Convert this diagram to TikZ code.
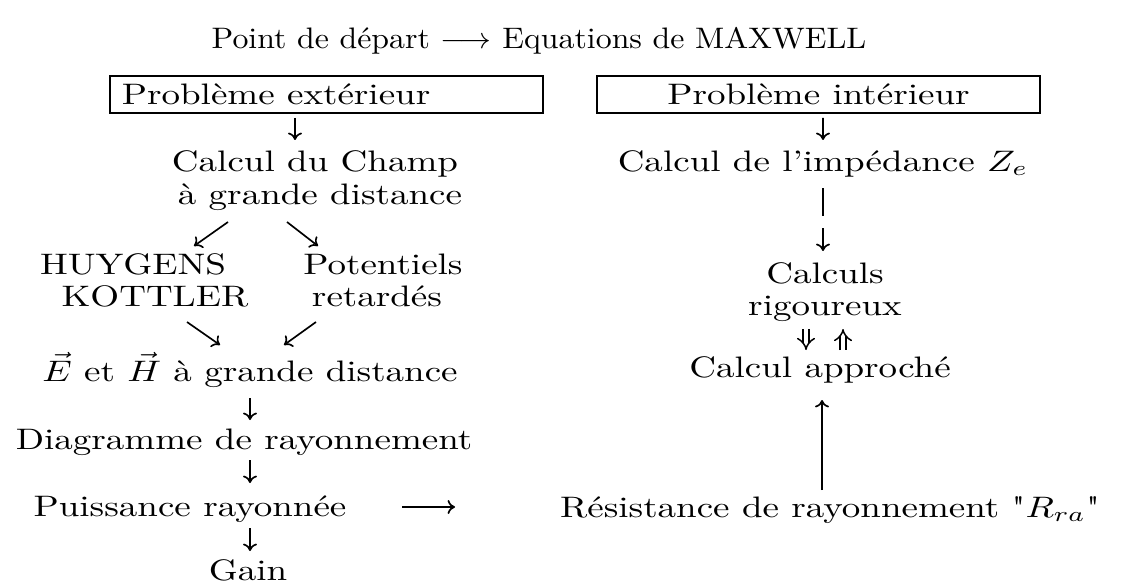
\documentclass[tikz,border=0pt]{standalone}
\usetikzlibrary{arrows.meta,calc}
\newcommand{\sq}[1]{\scalebox{1}[0.8]{#1}}
\begin{document}
\begin{tikzpicture}[x=0.27pt,y=-0.27pt,
  txt/.style={inner sep=0pt,outer sep=0pt,anchor=base,font=\fontsize{10pt}{12pt}\selectfont},
  boxst/.style={draw,line width=0.5pt,inner xsep=0pt,inner ysep=0pt,minimum height=10pt,font=\fontsize{10pt}{12pt}\selectfont},
  arr/.style={line width=0.45pt,-{To[length=2pt,width=3.8pt]}},
  ln/.style={line width=0.45pt},
  dbl/.style={double,double distance=1.3pt,line width=0.4pt,-{Implies}}]
\useasboundingbox (0,0) rectangle (1141,586);

\node[txt] (title) at (539,49) {\scalebox{0.86}[0.8]{Point de départ $\longrightarrow$ Equations de MAXWELL}};
\node[boxst,text width=116.9pt,align=left] (boxL) at (326.5,94.5) {\hspace*{3.2pt}\sq{Problème extérieur}};
\node[boxst,text width=119.6pt,align=center] (boxR) at (818.5,94.5) {\sq{Problème intérieur}};

\node[txt] (calc1) at (315,171) {\sq{Calcul du Champ}};
\node[txt] (calc2) at (320,204) {\sq{à grande distance}};
\node[txt] (huy) at (133,274) {\sq{HUYGENS}};
\node[txt] (kot) at (155,306) {\sq{KOTTLER}};
\node[txt] (pot) at (383,274) {\sq{Potentiels}};
\node[txt] (ret) at (377,306) {\sq{retardés}};
\node[txt] (eh) at (250,381) {\sq{$\vec{E}$ et $\vec{H}$ à grande distance}};
\node[txt] (diag) at (244,449) {\sq{Diagramme de rayonnement}};
\node[txt] (puis) at (190,516) {\sq{Puissance rayonnée}};
\node[txt] (gain) at (248,580) {\sq{Gain}};

\node[txt] (calcz) at (823,171) {\sq{Calcul de l'impédance $Z_e$}};
\node[txt] (calcs) at (825,283) {\sq{Calculs}};
\node[txt] (rig) at (825,315) {\sq{rigoureux}};
\node[txt] (appr) at (820,377) {\sq{Calcul approché}};
\node[txt] (res) at (830,517) {\sq{Résistance de rayonnement \textquotedbl$R_{ra}$\textquotedbl}};

% left column
\draw[arr] ($(boxL.south)+(-31.5,4)$) -- ($(calc1.base)+(-20,-31)$);
\draw[arr] ($(calc2.base)+(-92,18)$) -- ($(huy.base)+(61,-28)$);
\draw[arr] ($(calc2.base)+(-33,18)$) -- ($(pot.base)+(-65,-28)$);
\draw[arr] ($(kot.base)+(32,16)$) -- ($(eh.base)+(-30,-36)$);
\draw[arr] ($(ret.base)+(-61,16)$) -- ($(eh.base)+(34,-36)$);
\draw[arr] ($(eh.base)+(0,17)$) -- ($(diag.base)+(6,-29)$);
\draw[arr] ($(diag.base)+(6,11)$) -- ($(puis.base)+(60,-33)$);
\draw[arr] ($(puis.base)+(60,12)$) -- ($(gain.base)+(2,-29)$);
\draw[arr] ($(puis.base)+(212,-9)$) -- ($(res.base)+(-375,-10)$);

% right column
\draw[arr] ($(boxR.south)+(4.5,4)$) -- ($(calcz.base)+(0,-31)$);
\draw[ln] ($(calcz.base)+(0,17)$) -- ++(0,28) coordinate (brk);
\draw[arr] ($(brk)+(0,12)$) -- ($(calcs.base)+(-2,-32)$);
\draw[dbl] ($(rig.base)+(-19,14)$) -- ($(appr.base)+(-14,-27)$);
\draw[dbl] ($(appr.base)+(23,-27)$) -- ($(rig.base)+(18,14)$);
\draw[arr] ($(res.base)+(-8,-27)$) -- ($(appr.base)+(2,23)$);
\end{tikzpicture}
\end{document}
